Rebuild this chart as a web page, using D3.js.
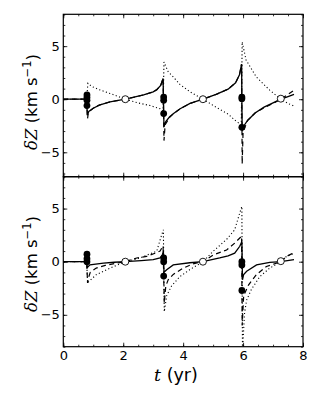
<!DOCTYPE html>
<html>
<head>
<meta charset="utf-8">
<script src="https://cdn.jsdelivr.net/npm/d3@7"></script>
<style>
  body { margin: 0; background: #fff; }
  svg { display: block; font-family: "DejaVu Sans", sans-serif; }
</style>
</head>
<body>
<div id="chart"></div>
<script>
// two stacked panels sharing the time axis
// solid / dashed / dotted curves, filled dots at the spikes, open circles at the crossings

const xTicks = [0, 2, 4, 6, 8];
const yTicks = [-5, 0, 5];

// top panel curves [t, dZ]
const topSolid = [[0,0],[0.78,0],[0.80,-1.5],[0.85,-1.15],[1.0,-0.85],[1.2,-0.55],[1.56,-0.25],[2.07,0],
  [2.68,0.4],[3.0,0.7],[3.12,0.9],[3.25,1.3],[3.33,1.95],[3.36,-2.6],[3.42,-2.1],[3.55,-1.65],[3.68,-1.35],
  [3.9,-0.9],[4.23,-0.4],[4.66,0],[5.1,0.45],[5.5,0.95],[5.75,1.55],[5.88,2.3],[5.95,3.3],[5.97,-3.0],
  [6.03,-2.5],[6.15,-2.0],[6.4,-1.3],[6.7,-0.75],[7.0,-0.35],[7.26,0],[7.5,0.25],[7.7,0.45]];
const topDashed = [[0,0],[0.78,0],[0.81,-1.8],[0.84,-1.2],[1.0,-0.85],[1.2,-0.55],[1.56,-0.25],[2.07,0],
  [2.68,0.4],[3.0,0.7],[3.12,0.9],[3.25,1.3],[3.33,1.95],[3.36,-3.9],[3.40,-2.4],[3.55,-1.7],[3.68,-1.35],
  [3.9,-0.9],[4.23,-0.4],[4.66,0],[5.1,0.45],[5.5,0.95],[5.75,1.55],[5.88,2.3],[5.95,3.3],[5.97,-6.1],
  [6.0,-3.1],[6.15,-2.0],[6.4,-1.3],[6.7,-0.8],[7.0,-0.4],[7.26,0],[7.5,0.45],[7.7,0.85]];
const topDotted = [[0,0],[0.78,0],[0.82,1.5],[0.95,1.2],[1.2,0.9],[1.6,0.5],[2.07,0],[2.5,-0.35],
  [2.9,-0.6],[3.23,-0.9],[3.33,-1.1],[3.36,3.5],[3.5,2.6],[3.67,2.1],[3.89,1.4],[4.23,0.7],[4.66,0],
  [5.1,-0.75],[5.5,-1.4],[5.78,-2.1],[5.94,-2.4],[5.97,5.4],[6.1,3.7],[6.44,2.1],[6.89,0.85],[7.26,0],
  [7.5,-0.4],[7.7,-0.65]];

// bottom panel curves [t, dZ]
const botSolid = [[0,0],[0.78,0],[0.80,-0.55],[0.89,-0.3],[1.34,-0.13],[1.7,-0.05],[2.07,0],[2.6,0.1],
  [3.0,0.2],[3.23,0.35],[3.3,0.6],[3.34,1.0],[3.36,-1.0],[3.45,-0.75],[3.67,-0.3],[4.22,-0.1],[4.66,0],
  [5.22,0.35],[5.5,0.55],[5.72,0.8],[5.89,1.45],[5.96,1.9],[5.98,-1.7],[6.02,-1.2],[6.12,-0.9],
  [6.45,-0.3],[6.89,-0.06],[7.26,0],[7.7,0.2]];
const botDashed = [[0,0],[0.78,0],[0.81,-2.0],[0.84,-1.5],[0.9,-1.0],[1.1,-0.6],[1.4,-0.35],[1.75,-0.15],
  [2.07,0],[2.45,0.35],[2.78,0.5],[3.06,0.8],[3.23,1.0],[3.33,1.5],[3.37,-3.9],[3.42,-2.3],[3.5,-1.7],
  [3.67,-1.2],[4.0,-0.6],[4.33,-0.2],[4.66,0],[5.01,0.65],[5.45,1.1],[5.72,1.75],[5.95,2.4],[5.97,-6.0],
  [6.02,-3.2],[6.18,-2.2],[6.45,-1.2],[6.78,-0.45],[7.26,0],[7.45,0.5],[7.7,0.85]];
const botDotted = [[0,0],[0.78,0],[0.81,-2.0],[0.84,-1.9],[1.11,-1.2],[1.56,-0.6],[2.07,0],[2.56,0.35],
  [3.12,1.0],[3.28,2.5],[3.34,3.0],[3.37,-4.7],[3.45,-3.2],[3.61,-2.3],[3.89,-1.4],[4.22,-0.75],[4.66,0],
  [5.01,1.0],[5.45,2.1],[5.72,3.0],[5.89,4.6],[5.96,5.2],[5.98,-8.5],[6.05,-4.8],[6.12,-3.6],[6.28,-2.6],
  [6.56,-1.4],[6.89,-0.6],[7.26,0],[7.45,0.5],[7.7,0.8]];

// measured points
const topFilled = [[0.79,0.4],[0.79,0.15],[0.79,-0.1],[0.79,-0.6],[3.35,0.2],[3.35,-0.1],[3.35,-1.35],
  [5.96,0.2],[5.96,0.05],[5.96,-2.65]];
const botFilled = [[0.79,0.7],[0.79,0.28],[0.79,0],[3.35,0.35],[3.35,0],[3.35,-1.35],
  [5.96,0],[5.96,-0.3],[5.96,-2.7]];
const openPts = [[2.07,0],[4.66,0],[7.26,0.05]];

const width = 320, height = 400;
const left = 63.3, right = 303;

const svg = d3.select("#chart").append("svg")
    .attr("width", width)
    .attr("height", height);

const x = d3.scaleLinear().domain([0, 8]).range([left, right]);

const panels = [
  { id: "top", y: d3.scaleLinear().domain([-7.3, 8]).range([176.7, 14.3]),
    solid: topSolid, dashed: topDashed, dotted: topDotted, filled: topFilled, labelY: 102, xLabels: false },
  { id: "bot", y: d3.scaleLinear().domain([-8, 8]).range([346.7, 176.7]),
    solid: botSolid, dashed: botDashed, dotted: botDotted, filled: botFilled, labelY: 264, xLabels: true }
];

const minorX = d3.range(0, 8.01, 0.5);
const minorY = d3.range(-8, 8.01, 1);

panels.forEach(p => {
  const y = p.y;
  const [y0, y1] = y.range();   // bottom, top
  const g = svg.append("g");

  g.append("clipPath").attr("id", "clip-" + p.id)
    .append("rect")
    .attr("x", left).attr("y", y1)
    .attr("width", right - left).attr("height", y0 - y1);

  const plot = g.append("g").attr("clip-path", `url(#clip-${p.id})`);

  const line = d3.line().x(d => x(d[0])).y(d => y(d[1]));

  plot.append("path").datum(p.dotted)
    .attr("d", line).attr("fill", "none").attr("stroke", "#000")
    .attr("stroke-width", 1.1).attr("stroke-dasharray", "1.1,2.4");
  plot.append("path").datum(p.dashed)
    .attr("d", line).attr("fill", "none").attr("stroke", "#000")
    .attr("stroke-width", 1.2).attr("stroke-dasharray", "5,3.5");
  plot.append("path").datum(p.solid)
    .attr("d", line).attr("fill", "none").attr("stroke", "#000")
    .attr("stroke-width", 1.3);

  plot.selectAll("circle.filled")
    .data(p.filled)
    .join("circle")
    .attr("class", "filled")
    .attr("cx", d => x(d[0]))
    .attr("cy", d => y(d[1]))
    .attr("r", 3.4)
    .attr("fill", "#000");

  plot.selectAll("circle.open")
    .data(openPts)
    .join("circle")
    .attr("class", "open")
    .attr("cx", d => x(d[0]))
    .attr("cy", d => y(d[1]))
    .attr("r", 3.5)
    .attr("fill", "#fff")
    .attr("stroke", "#000")
    .attr("stroke-width", 0.9);

  // ticks, all pointing inward
  const addAxis = (axis, tr) => {
    const a = g.append("g").attr("transform", tr).call(axis);
    a.select(".domain").remove();
    a.selectAll("line").attr("stroke", "#000").attr("stroke-width", 0.8);
    return a;
  };

  const inY = minorY.filter(v => v >= y.domain()[0] && v <= y.domain()[1]);
  addAxis(d3.axisBottom(x).tickValues(minorX).tickSize(-2).tickFormat(""), `translate(0,${y0})`);
  addAxis(d3.axisTop(x).tickValues(minorX).tickSize(-2).tickFormat(""), `translate(0,${y1})`);
  addAxis(d3.axisLeft(y).tickValues(inY).tickSize(-2).tickFormat(""), `translate(${left},0)`);
  addAxis(d3.axisRight(y).tickValues(inY).tickSize(-2).tickFormat(""), `translate(${right},0)`);

  const xb = addAxis(d3.axisBottom(x).tickValues(xTicks).tickSize(-4).tickPadding(4)
    .tickFormat(p.xLabels ? d => d : ""), `translate(0,${y0})`);
  addAxis(d3.axisTop(x).tickValues(xTicks).tickSize(-4).tickFormat(""), `translate(0,${y1})`);
  const yl = addAxis(d3.axisLeft(y).tickValues(yTicks).tickSize(-4).tickPadding(3.5)
    .tickFormat(d => d < 0 ? "\u2212" + Math.abs(d) : d), `translate(${left},0)`);
  addAxis(d3.axisRight(y).tickValues(yTicks).tickSize(-4).tickFormat(""), `translate(${right},0)`);

  [xb, yl].forEach(a => a.selectAll("text")
    .attr("fill", "#000")
    .style("font-size", "13px")
    .style("font-family", "'DejaVu Sans', sans-serif"));

  g.append("rect")
    .attr("x", left).attr("y", y1)
    .attr("width", right - left).attr("height", y0 - y1)
    .attr("fill", "none").attr("stroke", "#000").attr("stroke-width", 1.2);

  // y label
  const lab = g.append("text")
    .attr("transform", `translate(36.5,${p.labelY}) rotate(-90)`)
    .attr("text-anchor", "middle")
    .style("font-size", "16.5px")
    .attr("fill", "#000");
  lab.append("tspan").style("font-family", "'DejaVu Serif', serif").style("font-style", "italic").text("\u03B4Z");
  lab.append("tspan").text(" (km s");
  lab.append("tspan").attr("dy", "-0.45em").style("font-size", "11.5px").text("\u22121");
  lab.append("tspan").attr("dy", "0.4em").text(")");
});

// x label
const xl = svg.append("text")
  .attr("x", 176).attr("y", 381)
  .attr("text-anchor", "middle")
  .style("font-size", "17.5px")
  .attr("fill", "#000");
xl.append("tspan").style("font-family", "'DejaVu Serif', serif").style("font-style", "italic").text("t");
xl.append("tspan").text(" (yr)");
</script>
</body>
</html>
